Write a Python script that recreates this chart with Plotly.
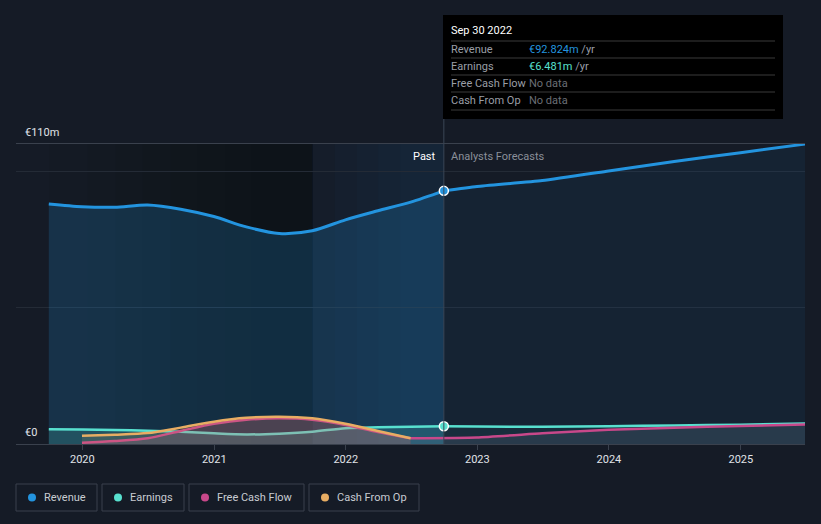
import plotly.graph_objects as go

# ---------------- data ----------------
hist_dates = ["2019-09-30", "2019-12-31", "2020-03-31", "2020-06-30", "2020-09-30",
              "2020-12-31", "2021-03-31", "2021-06-30", "2021-09-30", "2021-12-31",
              "2022-03-31", "2022-06-30", "2022-09-30"]
revenue_hist = [88.0, 87.0, 86.8, 87.6, 86.1, 83.4, 79.6, 77.2, 78.2, 82.2, 85.5, 88.7, 92.824]
earnings_hist = [5.4, 5.3, 5.1, 4.9, 4.5, 3.9, 3.5, 3.8, 4.5, 5.8, 6.1, 6.3, 6.481]

fc_dates = ["2022-09-30", "2022-12-31", "2023-06-30", "2023-12-31", "2024-06-30",
            "2024-12-31", "2025-06-30"]
revenue_fc = [92.824, 94.4, 96.6, 100.1, 103.6, 106.8, 110.0]
earnings_fc = [6.481, 6.4, 6.3, 6.5, 6.8, 7.1, 7.5]

cash_dates = ["2019-12-31", "2020-03-31", "2020-06-30", "2020-09-30", "2020-12-31",
              "2021-03-31", "2021-06-30", "2021-09-30", "2021-12-31", "2022-03-31",
              "2022-06-30"]
fcf_hist = [0.5, 1.1, 2.1, 4.8, 7.4, 8.9, 9.4, 8.9, 7.0, 4.4, 2.1]
cfo_hist = [3.0, 3.4, 4.0, 6.0, 8.2, 9.6, 10.0, 9.4, 7.4, 4.8, 2.1]

fcf_fc_dates = ["2022-06-30", "2022-12-31", "2023-06-30", "2023-12-31", "2024-06-30",
                "2024-12-31", "2025-06-30"]
fcf_fc = [2.1, 2.4, 3.9, 5.2, 6.0, 6.6, 7.2]

year_ticks = ["2020", "2021", "2022", "2023", "2024", "2025"]
y_grid = [0, 50, 100]
y_top = 110
y_labels = [(0, "€0"), (110, "€110m")]

tooltip_date = "2022-09-30"
tooltip_title = "Sep 30 2022"
tooltip_rows = [("Revenue", "€92.824m", "#2394df"),
                ("Earnings", "€6.481m", "#58e0cf"),
                ("Free Cash Flow", None, None),
                ("Cash From Op", None, None)]
legend_items = [("Revenue", "#2394df"), ("Earnings", "#58e0cf"),
                ("Free Cash Flow", "#c8488a"), ("Cash From Op", "#e8ad63")]

# ---------------- colours ----------------
BG = "#151b26"
C_REV = "#2394df"
C_EARN = "#58e0cf"
C_FCF = "#c8488a"
C_CFO = "#e8ad63"
GRID = "#242b36"
AXIS = "#3a414d"

W, H = 821, 524
ML, MR, MT, MB = 16, 16, 144, 80
PW, PH = W - ML - MR, H - MT - MB


def px(x):
    return (x - ML) / PW


def py(y):
    return (H - MB - y) / PH


fig = go.Figure()

# revenue
fig.add_trace(go.Scatter(x=hist_dates, y=revenue_hist, mode="lines",
                         line=dict(color=C_REV, width=3, shape="spline", smoothing=0.8),
                         fill="tozeroy", fillcolor="rgba(35,148,223,0.20)", hoverinfo="skip"))
fig.add_trace(go.Scatter(x=fc_dates, y=revenue_fc, mode="lines",
                         line=dict(color=C_REV, width=3, shape="spline", smoothing=0.5),
                         fill="tozeroy", fillcolor="rgba(35,148,223,0.07)", hoverinfo="skip"))
# earnings
fig.add_trace(go.Scatter(x=hist_dates, y=earnings_hist, mode="lines",
                         line=dict(color=C_EARN, width=2.5, shape="spline", smoothing=0.8),
                         fill="tozeroy", fillcolor="rgba(88,224,207,0.18)", hoverinfo="skip"))
fig.add_trace(go.Scatter(x=fc_dates, y=earnings_fc, mode="lines",
                         line=dict(color=C_EARN, width=2.5, shape="spline", smoothing=0.5),
                         fill="tozeroy", fillcolor="rgba(88,224,207,0.06)", hoverinfo="skip"))
# free cash flow
fig.add_trace(go.Scatter(x=cash_dates, y=fcf_hist, mode="lines",
                         line=dict(color=C_FCF, width=2.5, shape="spline", smoothing=0.8),
                         fill="tozeroy", fillcolor="rgba(200,72,138,0.18)", hoverinfo="skip"))
fig.add_trace(go.Scatter(x=fcf_fc_dates, y=fcf_fc, mode="lines",
                         line=dict(color=C_FCF, width=2.5, shape="spline", smoothing=0.5),
                         fill="tozeroy", fillcolor="rgba(160,160,190,0.12)", hoverinfo="skip"))
# cash from op
fig.add_trace(go.Scatter(x=cash_dates, y=cfo_hist, mode="lines",
                         line=dict(color=C_CFO, width=2.5, shape="spline", smoothing=0.8),
                         fill="tozeroy", fillcolor="rgba(232,173,99,0.14)", hoverinfo="skip"))
# highlighted points
fig.add_trace(go.Scatter(x=[tooltip_date], y=[revenue_hist[-1]], mode="markers",
                         marker=dict(color=C_REV, size=9, line=dict(color="white", width=1.5)),
                         hoverinfo="skip"))
fig.add_trace(go.Scatter(x=[tooltip_date], y=[earnings_hist[-1]], mode="markers",
                         marker=dict(color=C_EARN, size=9, line=dict(color="white", width=1.5)),
                         hoverinfo="skip"))

shapes = []
# background bands: darkening gradient towards the last-year window
dark_starts = ["2019-10-01", "2020-01-15", "2020-04-01", "2020-06-15", "2020-09-01",
               "2020-11-15", "2021-02-01", "2021-04-15"]
for x0 in dark_starts:
    shapes.append(dict(type="rect", xref="x", yref="paper", x0=x0, x1="2021-09-30",
                       y0=0, y1=1, fillcolor="rgba(0,0,0,0.035)", line=dict(width=0),
                       layer="below"))
blue_starts = ["2021-09-30", "2021-12-01", "2022-02-01", "2022-04-01", "2022-06-01"]
for x0 in blue_starts:
    shapes.append(dict(type="rect", xref="x", yref="paper", x0=x0, x1=tooltip_date,
                       y0=0, y1=1, fillcolor="rgba(35,148,223,0.024)", line=dict(width=0),
                       layer="below"))
# vertical marker line
shapes.append(dict(type="line", xref="x", yref="paper", x0=tooltip_date, x1=tooltip_date,
                   y0=0, y1=py(15), line=dict(color="#3b4656", width=1), layer="above"))
# tooltip box
shapes.append(dict(type="rect", xref="paper", yref="paper", x0=px(443), x1=px(783),
                   y0=py(119), y1=py(15), fillcolor="#000000", line=dict(width=0), layer="above"))
for yy in [41, 58, 75, 92, 110]:
    shapes.append(dict(type="line", xref="paper", yref="paper", x0=px(451), x1=px(775),
                       y0=py(yy), y1=py(yy), line=dict(color="#3a3a3a", width=1), layer="above"))

annotations = []
FONT = "Roboto, 'Open Sans', sans-serif"
annotations.append(dict(xref="paper", yref="paper", x=px(449), y=py(31), text=tooltip_title,
                        showarrow=False, xanchor="left", yanchor="middle",
                        font=dict(color="white", size=11, family=FONT)))
for i, (name, val, col) in enumerate(tooltip_rows):
    yy = 49 + i * 17.3
    annotations.append(dict(xref="paper", yref="paper", x=px(449), y=py(yy), text=name,
                            showarrow=False, xanchor="left", yanchor="middle",
                            font=dict(color="#9a9ea6", size=11, family=FONT)))
    if val is None:
        txt = "No data"
        fcol = "#6b6f76"
    else:
        txt = f"<span style='color:{col}'>{val}</span> /yr"
        fcol = "#9a9ea6"
    annotations.append(dict(xref="paper", yref="paper", x=px(527), y=py(yy), text=txt,
                            showarrow=False, xanchor="left", yanchor="middle",
                            font=dict(color=fcol, size=11, family=FONT)))

# y labels (sitting above their grid lines)
for val, lab in y_labels:
    annotations.append(dict(xref="paper", yref="y", x=px(23), y=val, text=lab,
                            showarrow=False, xanchor="left", yanchor="bottom", yshift=3,
                            font=dict(color="#e0e3e8", size=11, family=FONT)))

# Past / Forecast labels
annotations.append(dict(xref="x", yref="paper", x=tooltip_date, y=py(156), text="Past",
                        showarrow=False, xanchor="right", yanchor="middle", xshift=-6,
                        font=dict(color="white", size=11, family=FONT)))
annotations.append(dict(xref="x", yref="paper", x=tooltip_date, y=py(156), text="Analysts Forecasts",
                        showarrow=False, xanchor="left", yanchor="middle", xshift=5,
                        font=dict(color="#8a8f99", size=11, family=FONT)))

# custom legend
legend_boxes = [(16, 97), (102, 184), (189, 304), (309, 419)]
for (name, col), (x0, x1) in zip(legend_items, legend_boxes):
    shapes.append(dict(type="rect", xref="paper", yref="paper", x0=px(x0), x1=px(x1),
                       y0=py(511), y1=py(484), line=dict(color=AXIS, width=1),
                       fillcolor="rgba(0,0,0,0)"))
    shapes.append(dict(type="circle", xref="paper", yref="paper", xsizemode="pixel",
                       ysizemode="pixel", xanchor=px(x0 + 16), yanchor=py(497.5),
                       x0=-4, x1=4, y0=-4, y1=4, fillcolor=col, line=dict(width=0)))
    annotations.append(dict(xref="paper", yref="paper", x=px(x0 + 26), y=py(497.5), text=name,
                            showarrow=False, xanchor="left", yanchor="middle",
                            font=dict(color="#c8ccd2", size=11, family=FONT)))

fig.update_layout(
    width=W, height=H,
    margin=dict(l=ML, r=MR, t=MT, b=MB),
    paper_bgcolor=BG, plot_bgcolor=BG,
    showlegend=False,
    hovermode=False,
    font=dict(family=FONT, color="#d0d4da", size=11),
    shapes=shapes,
    annotations=annotations,
    xaxis=dict(type="date", range=["2019-07-01", "2025-06-28"],
               tickvals=[y + "-01-01" for y in year_ticks], ticktext=year_ticks,
               ticks="outside", ticklen=5, tickcolor=AXIS, showgrid=False,
               showline=True, linecolor=AXIS, linewidth=1, mirror=True,
               zeroline=False, tickfont=dict(color="#e0e3e8", size=11)),
    yaxis=dict(range=[0, y_top], tickvals=y_grid, showticklabels=False,
               showgrid=True, gridcolor=GRID, gridwidth=1, zeroline=False,
               showline=False, ticks=""),
)

fig.write_html("out.html", config={"displayModeBar": False},
               post_script="document.body.style.margin='0';document.body.style.background='#151b26';")
